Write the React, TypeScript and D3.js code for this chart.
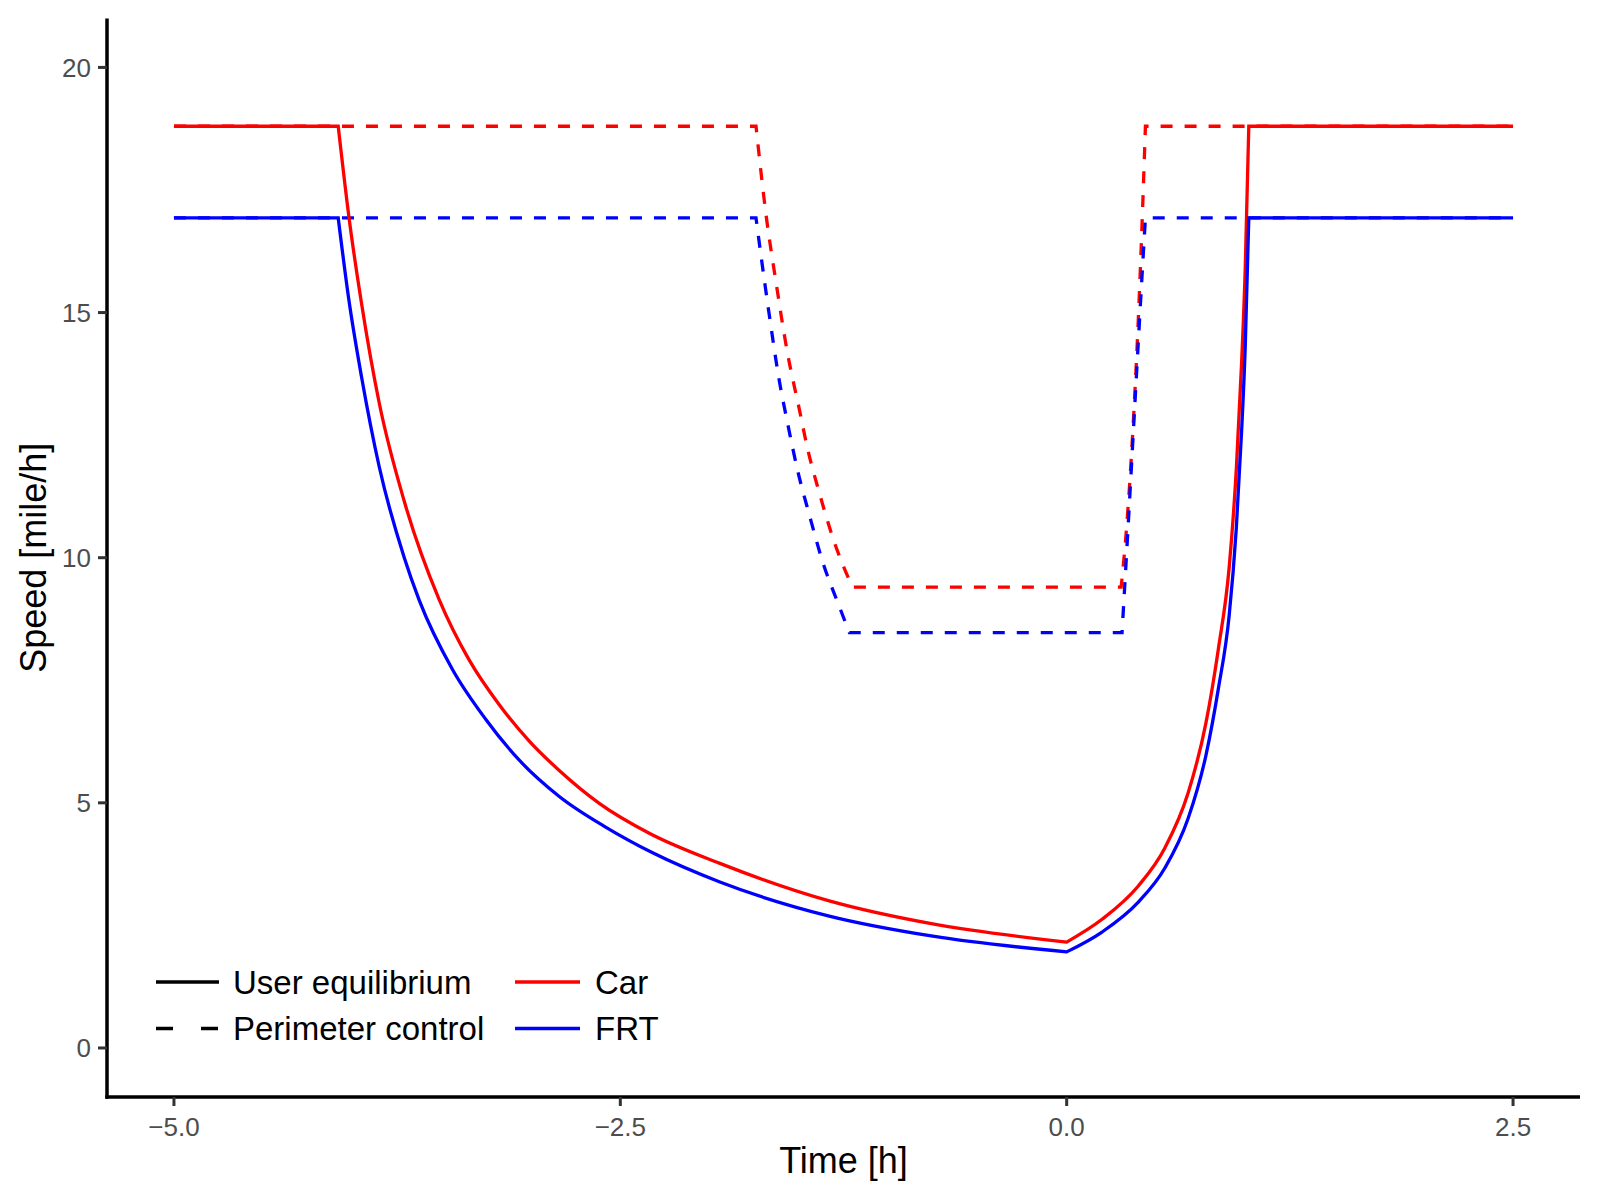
import React, { useEffect, useRef } from 'react'
import * as d3 from 'd3'

// speed profiles; corner indices mark kinks in each line
const ueCarTime = [-5, -4.08, -4.02, -3.95, -3.85, -3.71, -3.514, -3.346, -3.178, -3.01, -2.842, -2.618, -2.338,
  -1.946, -1.33, -0.75, 0,
  0.2, 0.4, 0.55, 0.68, 0.78, 0.85, 0.91, 0.95, 0.98, 1.0, 1.02, 2.5]
const ueCarSpeed = [18.8, 18.8, 16.95, 15.2, 13.15, 11.15, 9.14, 7.91, 7.0, 6.26, 5.66, 4.99, 4.38,
  3.77, 3.0, 2.53, 2.16,
  2.63, 3.3, 4.08, 5.2, 6.63, 8.15, 9.8, 11.8, 14.0, 15.9, 18.8, 18.8]
const ueCarCorners = [1, 16, 27]

const ueFrtTime = [-5, -4.08, -4.02, -3.95, -3.85, -3.71, -3.626, -3.44, -3.253, -3.066, -2.842, -2.58, -2.319,
  -1.946, -1.33, -0.75, 0,
  0.2, 0.4, 0.55, 0.68, 0.78, 0.85, 0.91, 0.95, 0.98, 1.0, 1.02, 2.5]
const ueFrtSpeed = [16.93, 16.93, 15.25, 13.7, 11.85, 10.0, 9.13, 7.72, 6.7, 5.87, 5.13, 4.5, 3.98,
  3.39, 2.69, 2.28, 1.96,
  2.37, 2.97, 3.67, 4.68, 5.97, 7.34, 8.82, 10.6, 12.6, 14.3, 16.93, 16.93]
const ueFrtCorners = [1, 16, 27]

const pcCarTime = [-5, -1.74, -1.684, -1.628, -1.563, -1.497, -1.451, -1.385, -1.311, -1.2,
  0.305, 0.333, 0.37, 0.398, 0.417, 0.435, 0.441, 2.5]
const pcCarSpeed = [18.8, 18.8, 17.0, 15.62, 14.16, 13.02, 12.22, 11.32, 10.42, 9.4,
  9.4, 10.5, 12.55, 14.6, 16.3, 18.15, 18.8, 18.8]
const pcCarCorners = [1, 9, 10, 16]

const pcFrtTime = [-5, -1.74, -1.712, -1.666, -1.61, -1.563, -1.507, -1.441, -1.367, -1.273, -1.217,
  0.31, 0.342, 0.389, 0.426, 0.441, 2.5]
const pcFrtSpeed = [16.93, 16.93, 16.16, 14.96, 13.62, 12.74, 11.78, 10.87, 9.92, 9.0, 8.47,
  8.47, 10.5, 13.6, 16.0, 16.93, 16.93]
const pcFrtCorners = [1, 10, 11, 15]

const xTicks = [-5, -2.5, 0, 2.5]
const yTicks = [0, 5, 10, 15, 20]

const scenarioLabels = ['User equilibrium', 'Perimeter control']
const modeLabels = ['Car', 'FRT']
const modeColors = ['#ff0000', '#0000ff']

const App: React.FC = () => {
  const svgRef = useRef<SVGSVGElement>(null)

  useEffect(() => {
    const svg = d3.select(svgRef.current)
    svg.selectAll('*').remove()

    const width = 1600
    const height = 1200
    const left = 107
    const right = 1580
    const top = 18.4
    const bottom = 1097

    svg.attr('width', width).attr('height', height)

    const x = d3.scaleLinear().domain([-5.375, 2.875]).range([left, right])
    const y = d3.scaleLinear().domain([-1, 21]).range([bottom, top])

    const line = d3.line<[number, number]>()
      .x(d => x(d[0]))
      .y(d => y(d[1]))
      .curve(d3.curveMonotoneX)

    // split at the kinks so each smooth piece is curved on its own, then join into one path
    const buildPath = (t: number[], v: number[], corners: number[]) => {
      const cuts = [0, ...corners, t.length - 1]
      let d = ''
      for (let i = 0; i < cuts.length - 1; i++) {
        const pts: [number, number][] = []
        for (let k = cuts[i]; k <= cuts[i + 1]; k++) pts.push([t[k], v[k]])
        const seg = line(pts) || ''
        d += i === 0 ? seg : 'L' + seg.slice(1)
      }
      return d
    }

    const series = [
      { t: pcCarTime, v: pcCarSpeed, c: pcCarCorners, color: modeColors[0], dash: '12,12' },
      { t: pcFrtTime, v: pcFrtSpeed, c: pcFrtCorners, color: modeColors[1], dash: '12,12' },
      { t: ueCarTime, v: ueCarSpeed, c: ueCarCorners, color: modeColors[0], dash: null },
      { t: ueFrtTime, v: ueFrtSpeed, c: ueFrtCorners, color: modeColors[1], dash: null },
    ]

    series.forEach(s => {
      svg.append('path')
        .attr('d', buildPath(s.t, s.v, s.c))
        .attr('fill', 'none')
        .attr('stroke', s.color)
        .attr('stroke-width', 3.3)
        .attr('stroke-dasharray', s.dash)
    })

    // axes, theme_classic look
    const font = "'Liberation Sans', Arial, Helvetica, sans-serif"

    const xAxis = svg.append('g')
    xAxis.append('line')
      .attr('x1', left - 1.75).attr('x2', right)
      .attr('y1', bottom).attr('y2', bottom)
      .attr('stroke', 'black').attr('stroke-width', 3.5)
    xTicks.forEach(t => {
      xAxis.append('line')
        .attr('x1', x(t)).attr('x2', x(t))
        .attr('y1', bottom).attr('y2', bottom + 9)
        .attr('stroke', '#333333').attr('stroke-width', 3)
      xAxis.append('text')
        .attr('x', x(t)).attr('y', bottom + 39)
        .attr('text-anchor', 'middle')
        .attr('font-family', font).attr('font-size', 26)
        .attr('fill', '#4d4d4d')
        .text(d3.format('.1f')(t).replace('-', '\u2212'))
    })

    const yAxis = svg.append('g')
    yAxis.append('line')
      .attr('x1', left).attr('x2', left)
      .attr('y1', top).attr('y2', bottom + 1.75)
      .attr('stroke', 'black').attr('stroke-width', 3.5)
    yTicks.forEach(v => {
      yAxis.append('line')
        .attr('x1', left - 9).attr('x2', left)
        .attr('y1', y(v)).attr('y2', y(v))
        .attr('stroke', '#333333').attr('stroke-width', 3)
      yAxis.append('text')
        .attr('x', left - 16).attr('y', y(v))
        .attr('dy', '0.36em')
        .attr('text-anchor', 'end')
        .attr('font-family', font).attr('font-size', 26)
        .attr('fill', '#4d4d4d')
        .text(String(v))
    })

    svg.append('text')
      .attr('x', (left + right) / 2).attr('y', 1173)
      .attr('text-anchor', 'middle')
      .attr('font-family', font).attr('font-size', 36)
      .text('Time [h]')

    svg.append('text')
      .attr('transform', `translate(46,${(top + bottom) / 2}) rotate(-90)`)
      .attr('text-anchor', 'middle')
      .attr('font-family', font).attr('font-size', 36)
      .text('Speed [mile/h]')

    // legend
    const rows = [982, 1028.6]
    const legend = svg.append('g')
    scenarioLabels.forEach((label, i) => {
      legend.append('line')
        .attr('x1', 156).attr('x2', 219)
        .attr('y1', rows[i]).attr('y2', rows[i])
        .attr('stroke', 'black').attr('stroke-width', 3.5)
        .attr('stroke-dasharray', i === 1 ? '17,28' : null)
      legend.append('text')
        .attr('x', 233).attr('y', rows[i]).attr('dy', '0.36em')
        .attr('font-family', font).attr('font-size', 33)
        .text(label)
    })
    modeLabels.forEach((label, i) => {
      legend.append('line')
        .attr('x1', 515).attr('x2', 580)
        .attr('y1', rows[i]).attr('y2', rows[i])
        .attr('stroke', modeColors[i]).attr('stroke-width', 3.5)
      legend.append('text')
        .attr('x', 595).attr('y', rows[i]).attr('dy', '0.36em')
        .attr('font-family', font).attr('font-size', 33)
        .text(label)
    })
  }, [])

  return (
    <div style={{ position: 'absolute', left: 0, top: 0, background: 'white' }}>
      <svg ref={svgRef} style={{ display: 'block' }}></svg>
    </div>
  )
}

export default App
